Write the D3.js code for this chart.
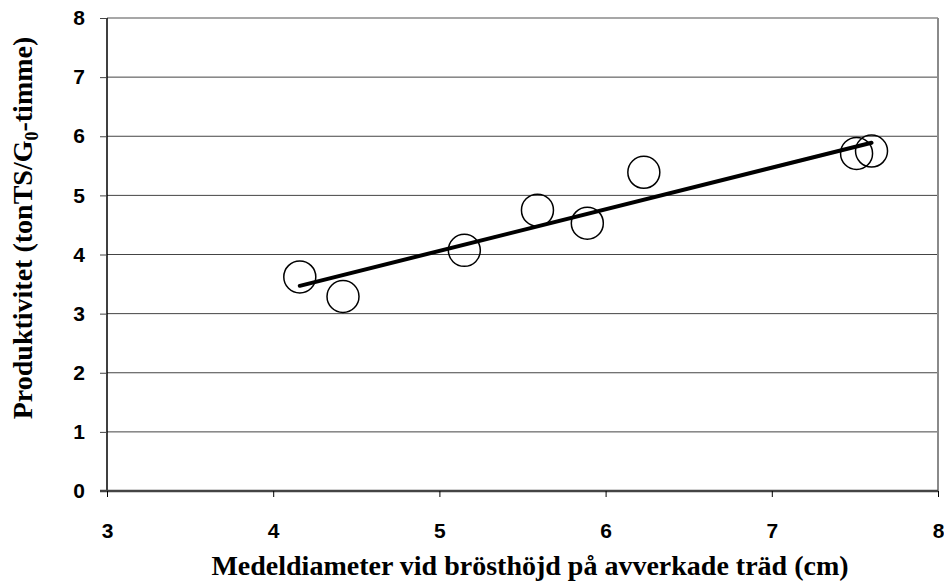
<!DOCTYPE html>
<html><head><meta charset="utf-8">
<script src="https://cdnjs.cloudflare.com/ajax/libs/d3/7.8.5/d3.min.js"></script>
<style>body{margin:0;background:#fff}svg{display:block}</style>
</head><body>
<script>
const xValues = [4.16, 4.42, 5.15, 5.59, 5.89, 6.23, 7.51, 7.60];
const yValues = [3.62, 3.29, 4.07, 4.75, 4.53, 5.39, 5.71, 5.75];
const trendX = [4.16, 7.60];
const trendY = [3.47, 5.89];
const xTicks = [3, 4, 5, 6, 7, 8];
const yTicks = [0, 1, 2, 3, 4, 5, 6, 7, 8];
const xTitle = "Medeldiameter vid brösthöjd på avverkade träd (cm)";

const W = 944, H = 581;
const L = 107, R = 938, T = 18, B = 491;
const svg = d3.select("body").append("svg").attr("width", W).attr("height", H);
const x = d3.scaleLinear().domain([3, 8]).range([L, R]);
const y = d3.scaleLinear().domain([0, 8]).range([B, T]);

// gridlines
svg.append("g").selectAll("line").data(yTicks.filter(d => d > 0)).join("line")
  .attr("x1", L).attr("x2", R).attr("y1", d => y(d)).attr("y2", d => y(d))
  .attr("stroke", d => d === 8 ? "#8a8a8a" : "#444").attr("stroke-width", d => d === 8 ? 1.5 : 1);
// right border
svg.append("line").attr("x1", R).attr("x2", R).attr("y1", T).attr("y2", B)
  .attr("stroke", "#8a8a8a").attr("stroke-width", 2);

// y axis
const ya = svg.append("g").attr("transform", `translate(${L},0)`)
  .call(d3.axisLeft(y).tickValues(yTicks).tickSize(7).tickPadding(15).tickFormat(d3.format("d")));
ya.select(".domain").attr("stroke", "#000").attr("stroke-width", 1.5).attr("d", `M0,${T}V${B}`);
ya.selectAll(".tick line").attr("stroke", "#444");
ya.selectAll("text").style("font-family", "Liberation Sans, Arial, sans-serif").style("font-weight", "bold").style("font-size", "21px").attr("fill", "#000");

// x axis
const xa = svg.append("g").attr("transform", `translate(0,${B})`)
  .call(d3.axisBottom(x).tickValues(xTicks).tickSize(6).tickPadding(26).tickFormat(d3.format("d")));
xa.select(".domain").attr("stroke", "#444").attr("stroke-width", 2.5).attr("d", `M${L - 7},0H${R}`);
xa.selectAll(".tick line").attr("stroke", "#000");
xa.selectAll("text").style("font-family", "Liberation Sans, Arial, sans-serif").style("font-weight", "bold").style("font-size", "21px").attr("fill", "#000");

// trend line
svg.append("line")
  .attr("x1", x(trendX[0])).attr("y1", y(trendY[0]))
  .attr("x2", x(trendX[1])).attr("y2", y(trendY[1]))
  .attr("stroke", "#000").attr("stroke-width", 4).attr("stroke-linecap", "round");

// points
svg.append("g").selectAll("circle").data(xValues.map((v, i) => [v, yValues[i]])).join("circle")
  .attr("cx", d => x(d[0])).attr("cy", d => y(d[1])).attr("r", 16)
  .attr("fill", "none").attr("stroke", "#000").attr("stroke-width", 1.5);

// titles
svg.append("text").attr("x", 530).attr("y", 575).attr("text-anchor", "middle")
  .attr("font-family", "Liberation Serif, Times New Roman, serif").attr("font-weight", "bold").attr("font-size", 28)
  .text(xTitle);

const yt = svg.append("text").attr("transform", `translate(32,228) rotate(-90)`).attr("text-anchor", "middle")
  .attr("font-family", "Liberation Serif, Times New Roman, serif").attr("font-weight", "bold").attr("font-size", 28);
yt.append("tspan").text("Produktivitet (tonTS/G");
yt.append("tspan").attr("font-size", 18).attr("dy", 6).text("0");
yt.append("tspan").attr("dy", -6).text("-timme)");
</script>
</body></html>
